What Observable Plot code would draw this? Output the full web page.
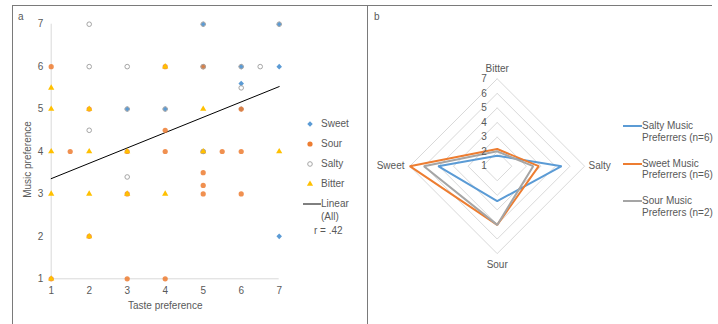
<!DOCTYPE html>
<html>
<head>
<meta charset="utf-8">
<script src="https://cdn.jsdelivr.net/npm/d3@7"></script>
<script src="https://cdn.jsdelivr.net/npm/@observablehq/plot@0.6"></script>
<style>
  html, body { margin: 0; padding: 0; background: #fff; overflow: hidden; }
  #root { position: relative; width: 718px; height: 324px; font-family: "Liberation Sans", Arial, sans-serif; color: #595959; font-size: 10px; }
  .frame { position: absolute; left: 12px; top: 5px; width: 700px; height: 340px; border-top: 1.5px solid #7a7a7a; border-left: 1.5px solid #7a7a7a; box-sizing: border-box; }
  .divider { position: absolute; left: 366.5px; top: 5px; width: 1.5px; height: 330px; background: #7a7a7a; }
  .leg { position: absolute; height: 12px; line-height: 12px; white-space: nowrap; }
  svg.sym { position: absolute; overflow: visible; }
</style>
</head>
<body>
<div id="root">
  <div class="frame"></div>
  <div class="divider"></div>
</div>
<script>
// ---------- Panel a: scatter data ----------
const xTicks = [1, 2, 3, 4, 5, 6, 7];
const yTicks = [1, 2, 3, 4, 5, 6, 7];
const seriesNames = ["Sweet", "Sour", "Salty", "Bitter"];

const sweetX = [5, 7, 5, 6, 7, 6, 3, 4, 6, 7];
const sweetY = [7, 7, 6, 6, 6, 5.6, 5, 5, 5, 2];

const sourX = [1, 5, 4, 6, 2, 4, 1.5, 3, 4, 5, 5.5, 6, 5, 5, 3, 5, 6, 2, 1, 3, 4];
const sourY = [6, 6, 6, 5, 5, 4.5, 4, 4, 4, 4, 4, 4, 3.5, 3.2, 3, 3, 3, 2, 1, 1, 1];

const saltyX = [2, 7, 5, 2, 3, 5, 6, 6.5, 6, 3, 4, 2, 5, 3];
const saltyY = [7, 7, 7, 6, 6, 6, 6, 6, 5.5, 5, 5, 4.5, 4, 3.4];

const bitterX = [1, 1, 2, 5, 4, 1, 2, 3, 5, 7, 1, 2, 3, 4, 2, 1];
const bitterY = [5.5, 5, 5, 5, 6, 4, 4, 4, 4, 4, 3, 3, 3, 3, 2, 1];

const trendX = [1, 7];
const trendY = [3.36, 5.53];
const trendLabel = ["Linear", "(All)"];
const rLabel = "r = .42";

// ---------- Panel b: radar data ----------
const radarAxes = ["Bitter", "Salty", "Sour", "Sweet"]; // clockwise from top
const radarLevels = [1, 2, 3, 4, 5, 6, 7];
const radarGroups = ["Salty Music Preferrers (n=6)", "Sweet Music Preferrers (n=6)", "Sour Music Preferrers (n=2)"];
const saltyPrefValues = [1.72, 5.42, 3.4, 5.05];
const sweetPrefValues = [2.18, 3.85, 5.03, 7.0];
const sourPrefValues = [2.02, 3.47, 5.03, 6.03];

// ---------- styles ----------
const C = {sweet: "#5B9BD5", sour: "#ED7D31", salty: "#A5A5A5", bitter: "#FFC000", text: "#595959", axis: "#D9D9D9"};
const FONT = '"Liberation Sans", Arial, sans-serif';
const root = document.getElementById("root");

const pts = (xs, ys) => xs.map((x, i) => ({x, y: ys[i]}));

// ---------- Panel a ----------
const left = Plot.plot({
  width: 367, height: 324,
  marginLeft: 50.7, marginRight: 88.3, marginTop: 23.7, marginBottom: 45.7,
  x: {domain: [1, 7], ticks: xTicks, tickSize: 0, tickPadding: 8, tickFormat: "d", label: null},
  y: {domain: [1, 7], ticks: yTicks, tickSize: 0, tickPadding: 8, tickFormat: "d", label: null},
  style: {fontFamily: FONT, fontSize: "10px", color: C.text, background: "transparent", overflow: "visible"},
  marks: [
    Plot.ruleX([1], {stroke: C.axis, strokeWidth: 1}),
    Plot.ruleY([1], {stroke: C.axis, strokeWidth: 1}),
    Plot.text(["Taste preference"], {frameAnchor: "bottom", dy: 26.7, textAnchor: "middle", lineAnchor: "middle", fill: C.text, fontSize: 10}),
    Plot.text(["Music preference"], {frameAnchor: "left", rotate: -90, textAnchor: "middle", lineAnchor: "middle", dx: -23.7, dy: 8, fill: C.text, fontSize: 10}),
    Plot.line(pts(trendX, trendY), {x: "x", y: "y", stroke: "#000", strokeWidth: 1}),
    Plot.dot(pts(sweetX, sweetY), {x: "x", y: "y", symbol: "diamond2", r: 2.5, fill: C.sweet, stroke: "none"}),
    Plot.dot(pts(sourX, sourY), {x: "x", y: "y", symbol: "circle", r: 2.6, fill: C.sour, fillOpacity: 0.85, stroke: "none"}),
    Plot.dot(pts(saltyX, saltyY), {x: "x", y: "y", symbol: "circle", r: 2.3, fill: "none", stroke: C.salty, strokeWidth: 1}),
    Plot.dot(pts(bitterX, bitterY), {x: "x", y: "y", symbol: "triangle", r: 2.3, fill: C.bitter, stroke: "none"})
  ]
});
left.style.position = "absolute";
left.style.left = "0px";
left.style.top = "0px";
root.appendChild(left);

// ---------- Panel b ----------
const angle = i => Math.PI / 2 - i * Math.PI / 2;
const polar = (v, i) => ({x: (v - 1) * Math.cos(angle(i)), y: (v - 1) * Math.sin(angle(i))});
const ring = (vals, name) => [...vals, vals[0]].map((v, i) => ({...polar(v, i % vals.length), name}));

const gridRows = radarLevels.filter(l => l > 1).flatMap(l => ring(radarAxes.map(() => l), "L" + l));
const seriesRows = [
  ...ring(saltyPrefValues, radarGroups[0]),
  ...ring(sweetPrefValues, radarGroups[1]),
  ...ring(sourPrefValues, radarGroups[2])
];
const tickRows = radarLevels.map(l => ({...polar(l, 0), label: String(l)}));
const axisLabelR = [7.71, 8.03, 7.75, 8.32];
const axisLabelRows = radarAxes.map((a, i) => ({...polar(axisLabelR[i], i), label: a}));

const right = Plot.plot({
  width: 351, height: 324,
  marginLeft: 42.3, marginRight: 133.9, marginTop: 78.3, marginBottom: 70.9,
  x: {domain: [-6, 6], axis: null},
  y: {domain: [-6, 6], axis: null},
  color: {domain: radarGroups, range: [C.sweet, C.sour, C.salty]},
  style: {fontFamily: FONT, fontSize: "10px", color: C.text, background: "transparent", overflow: "visible"},
  marks: [
    Plot.line(gridRows, {x: "x", y: "y", z: "name", stroke: C.axis, strokeWidth: 1}),
    Plot.line(seriesRows, {x: "x", y: "y", z: "name", stroke: "name", strokeWidth: 2, strokeLinejoin: "miter"}),
    Plot.text(tickRows, {x: "x", y: "y", text: "label", textAnchor: "end", dx: -10.5, fill: C.text, fontSize: 10}),
    Plot.text(axisLabelRows, {x: "x", y: "y", text: "label", textAnchor: "middle", fill: C.text, fontSize: 10})
  ]
});
right.style.position = "absolute";
right.style.left = "367px";
right.style.top = "0px";
root.appendChild(right);

// ---------- panel letters ----------
function addText(txt, x, y) {
  const d = document.createElement("div");
  d.className = "leg";
  d.textContent = txt;
  d.style.left = x + "px";
  d.style.top = (y - 6) + "px";
  root.appendChild(d);
  return d;
}
addText("a", 18, 17);
addText("b", 374, 17);

// ---------- legend a ----------
const symMap = {Sweet: d3.symbolDiamond2, Sour: d3.symbolCircle, Salty: d3.symbolCircle, Bitter: d3.symbolTriangle};
const symStyle = {
  Sweet: {fill: C.sweet, stroke: "none", r: 2.5},
  Sour: {fill: C.sour, stroke: "none", r: 2.6},
  Salty: {fill: "none", stroke: C.salty, r: 2.3},
  Bitter: {fill: C.bitter, stroke: "none", r: 2.3}
};
seriesNames.forEach((name, i) => {
  const y = 124 + i * 20;
  const s = symStyle[name];
  const svg = d3.create("svg").attr("class", "sym").attr("width", 10).attr("height", 10)
    .style("left", (310 - 5) + "px").style("top", (y - 5) + "px");
  svg.append("path")
    .attr("transform", "translate(5,5)")
    .attr("d", d3.symbol(symMap[name], Math.PI * s.r * s.r)())
    .attr("fill", s.fill).attr("stroke", s.stroke).attr("stroke-width", 1);
  root.appendChild(svg.node());
  addText(name, 321, y);
});
{
  const svg = d3.create("svg").attr("class", "sym").attr("width", 18).attr("height", 4)
    .style("left", "303px").style("top", "202px");
  svg.append("line").attr("x1", 0).attr("x2", 18).attr("y1", 2).attr("y2", 2).attr("stroke", "#000").attr("stroke-width", 1);
  root.appendChild(svg.node());
  addText(trendLabel[0], 321, 204);
  addText(trendLabel[1], 321, 217);
  addText(rLabel, 314, 231);
}

// ---------- legend b ----------
const radarColors = [C.sweet, C.sour, C.salty];
radarGroups.forEach((g, i) => {
  const y = 126 + i * 37.5;
  const svg = d3.create("svg").attr("class", "sym").attr("width", 19).attr("height", 4)
    .style("left", "623px").style("top", (y - 2) + "px");
  svg.append("line").attr("x1", 0).attr("x2", 19).attr("y1", 2).attr("y2", 2).attr("stroke", radarColors[i]).attr("stroke-width", 2);
  root.appendChild(svg.node());
  const parts = g.split(" ");
  addText(parts.slice(0, 2).join(" "), 642, y);
  addText(parts.slice(2).join(" "), 642, y + 11.5);
});
</script>
</body>
</html>
